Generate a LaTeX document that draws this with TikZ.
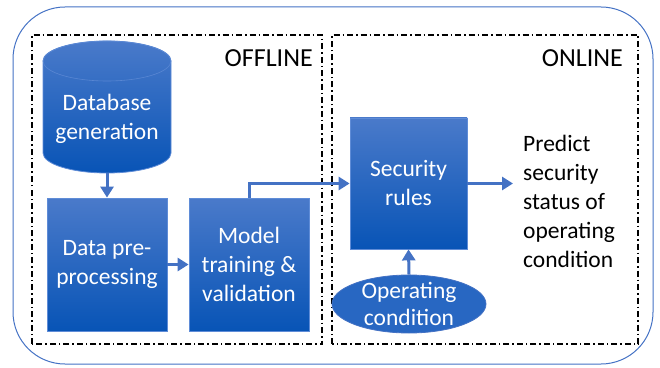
\documentclass[tikz,border=0pt]{standalone}
\usepackage{fontspec}
\setmainfont{Carlito}
\usetikzlibrary{arrows.meta,shapes.geometric}
\definecolor{ablue}{RGB}{68,114,196}
\definecolor{edgeblue}{RGB}{95,140,215}
\definecolor{gtop}{RGB}{74,122,202}
\definecolor{gbot}{RGB}{8,84,182}
\definecolor{ellfill}{RGB}{40,103,194}
\tikzset{
  proc/.style={draw=edgeblue, line width=0.8pt, top color=gtop, bottom color=gbot,
    text=white, font=\fontsize{23.5}{29}\selectfont, align=center, inner sep=0pt},
  frame/.style={draw=black, line width=1.2pt, dash pattern=on 6pt off 3pt on 1.5pt off 3pt},
  flow/.style={draw=ablue, line width=3pt, -{Triangle[length=11pt,width=13pt]}},
  heading/.style={font=\fontsize{26}{30}\selectfont, inner sep=0pt},
  plain/.style={font=\fontsize{23.5}{29}\selectfont, align=left, inner sep=0pt},
}
\begin{document}
\begin{tikzpicture}[x=1pt,y=1pt]
\useasboundingbox (0,0) rectangle (660,367);
% outer frame
\draw[ablue, line width=1pt, rounded corners=52pt] (13,3) rectangle (653,360);
% offline / online frames
\draw[frame] (32,23) rectangle (322,332);
\draw[frame] (332,23) rectangle (638,332);
\node[heading, anchor=base east] (off) at (313,300) {OFFLINE};
\node[heading, anchor=base east] (on) at (623,300) {ONLINE};
% database cylinder
\path[top color=gtop, bottom color=gbot, draw=edgeblue, line width=0.8pt]
  (43,306) -- (43,214) arc[start angle=180, end angle=360, x radius=64, y radius=20]
  -- (171,306) arc[start angle=0, end angle=180, x radius=64, y radius=20] -- cycle;
\draw[edgeblue!70!gtop, line width=0.6pt] (107,306) ellipse[x radius=64, y radius=20];
\node[text=white, font=\fontsize{23.5}{29}\selectfont, align=center, inner sep=0pt] (db) at (107,248) {Database\\generation};
\coordinate (dbb) at (107,194);
% process boxes
\node[proc, minimum width=120pt, minimum height=133pt] (prep) at (107,102.5) {Data pre-\\processing};
\node[proc, minimum width=120pt, minimum height=133pt] (model) at (249,102.5) {Model\\training \&\\validation};
\node[proc, minimum width=117pt, minimum height=131pt] (sec) at (408.5,183.5) {Security\\rules};
% operating condition ellipse
\node[ellipse, draw=ablue, line width=0.8pt, fill=ellfill, minimum width=154pt, minimum height=58pt, inner sep=0pt] (oc) at (409,63) {};
\node[text=white, font=\fontsize{23.5}{27}\selectfont, align=center, inner sep=0pt] (octext) at (oc.center) {Operating\\condition};
% output text
\node[plain, anchor=west] (pred) at (523,166) {Predict\\security\\status of\\operating\\condition};
\coordinate (predin) at (513,183.5);
% connectors
\draw[flow] (dbb) -- (prep.north);
\draw[flow] (prep.east) -- (model.east -| model.west);
\draw[flow] (model.north) |- (sec.west);
\draw[flow] (sec.east) -- (predin);
\draw[flow] (oc.north) -- (sec.south);
\end{tikzpicture}
\end{document}
